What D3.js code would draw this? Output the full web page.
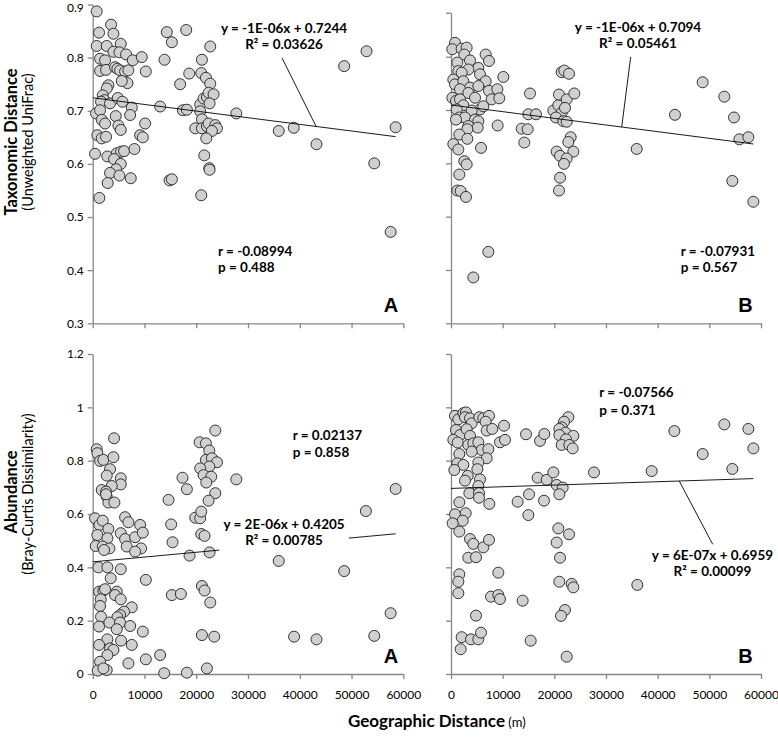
<!DOCTYPE html>
<html>
<head>
<meta charset="utf-8">
<script src="https://cdn.jsdelivr.net/npm/d3@7"></script>
<style>
body { margin: 0; background: #fff; }
svg { font-family: Lato, "Open Sans", sans-serif; }
.axis path, .axis line { stroke: #868686; stroke-width: 1.3; }
.axis text { font-size: 12px; fill: #000; font-family: Lato, sans-serif; }
.pt { fill: #d0d0d0; stroke: #333; stroke-width: 1; }
.trend, .leader { stroke: #000; stroke-width: 0.9; fill: none; }
.note { font-size: 13.5px; font-weight: bold; fill: #000; }
.tag { font-family: "Liberation Sans", Arial, sans-serif; font-size: 20px; font-weight: bold; }
</style>
</head>
<body>
<svg width="778" height="742"></svg>
<script>
// values: [geographic distance (m), dissimilarity]
const taxA = [[770,0.887],[1230,0.847],[3550,0.862],[4000,0.845],[770,0.822],[2710,0.822],[5420,0.826],[1420,0.798],[2390,0.795],[4000,0.811],[5160,0.810],[6450,0.806],[7740,0.795],[9480,0.801],[1420,0.775],[2580,0.777],[4320,0.782],[4770,0.779],[5290,0.776],[6260,0.774],[6900,0.776],[10260,0.774],[6710,0.752],[3030,0.748],[2710,0.742],[5610,0.756],[1940,0.729],[2260,0.720],[1610,0.717],[3350,0.714],[4840,0.724],[5740,0.717],[7550,0.706],[7230,0.692],[650,0.695],[1420,0.701],[1740,0.683],[2390,0.676],[4450,0.690],[4970,0.672],[5420,0.664],[10130,0.676],[900,0.654],[1740,0.648],[2580,0.651],[9160,0.654],[9680,0.650],[450,0.619],[2840,0.614],[4650,0.620],[5480,0.623],[6060,0.624],[8060,0.628],[4130,0.609],[5420,0.600],[4520,0.590],[3350,0.583],[5160,0.578],[7350,0.573],[2900,0.564],[1290,0.536],[13030,0.708],[14320,0.848],[15290,0.829],[13870,0.796],[18060,0.852],[18650,0.770],[16900,0.750],[17420,0.701],[18190,0.702],[14840,0.569],[15290,0.571],[21100,0.796],[22710,0.821],[20970,0.771],[21870,0.762],[22710,0.751],[20770,0.712],[20770,0.699],[21420,0.723],[22060,0.726],[22390,0.734],[23350,0.731],[22580,0.714],[21100,0.684],[19810,0.667],[21100,0.667],[22060,0.671],[22390,0.676],[23680,0.673],[24000,0.667],[23030,0.662],[21940,0.648],[21550,0.616],[22520,0.592],[22580,0.589],[20970,0.541],[27740,0.695],[48580,0.784],[52900,0.812],[35940,0.662],[38840,0.668],[43230,0.637],[54390,0.601],[58520,0.669],[57550,0.472]];

const taxB = [[770,0.826],[260,0.814],[2060,0.815],[3030,0.817],[2580,0.804],[1230,0.789],[3680,0.793],[6710,0.804],[7350,0.792],[5290,0.779],[3350,0.776],[1420,0.773],[2060,0.770],[5610,0.767],[10130,0.762],[450,0.757],[770,0.748],[2390,0.754],[6710,0.754],[3680,0.742],[5290,0.745],[1740,0.739],[3350,0.732],[4650,0.723],[7350,0.736],[8970,0.739],[7870,0.720],[9350,0.722],[260,0.723],[970,0.717],[1740,0.720],[2390,0.709],[1100,0.701],[5610,0.701],[4000,0.699],[6260,0.707],[1610,0.686],[2710,0.686],[970,0.682],[4650,0.682],[5290,0.679],[3350,0.670],[5160,0.667],[9030,0.671],[3160,0.664],[1610,0.654],[3160,0.646],[450,0.636],[1420,0.626],[5810,0.629],[2580,0.604],[3030,0.598],[1610,0.579],[1230,0.549],[1870,0.548],[2900,0.537],[7230,0.434],[4320,0.386],[15290,0.731],[13680,0.665],[14840,0.664],[14190,0.639],[14970,0.692],[16450,0.692],[19810,0.699],[20770,0.709],[20900,0.729],[22390,0.720],[21420,0.695],[20320,0.686],[22060,0.704],[21740,0.679],[22390,0.678],[23870,0.731],[21420,0.771],[21940,0.774],[22840,0.768],[23160,0.649],[22710,0.640],[23680,0.622],[20450,0.622],[21100,0.614],[22390,0.609],[21870,0.599],[21100,0.573],[20900,0.549],[35940,0.627],[43350,0.691],[48710,0.752],[52900,0.725],[54770,0.686],[55810,0.645],[57550,0.649],[54450,0.567],[58520,0.528]];

const abunA = [[770,0.843],[900,0.828],[1420,0.799],[2060,0.803],[4130,0.884],[4000,0.813],[3350,0.768],[2710,0.744],[5420,0.734],[5420,0.711],[3680,0.705],[1740,0.690],[2580,0.684],[2710,0.665],[3030,0.643],[4190,0.643],[2580,0.674],[450,0.584],[1290,0.559],[1940,0.575],[3030,0.544],[900,0.521],[2840,0.509],[580,0.480],[1940,0.478],[3230,0.471],[6260,0.588],[6900,0.569],[5420,0.528],[6260,0.506],[6580,0.478],[8190,0.513],[9160,0.559],[9680,0.530],[9350,0.471],[8190,0.459],[2190,0.465],[1100,0.400],[2840,0.400],[3480,0.359],[5420,0.393],[10260,0.353],[1230,0.309],[2060,0.313],[2390,0.318],[1550,0.280],[1420,0.255],[4650,0.309],[4320,0.296],[5420,0.280],[7550,0.250],[6060,0.234],[5290,0.221],[4770,0.213],[1610,0.215],[1230,0.178],[3230,0.193],[5290,0.193],[4650,0.168],[7230,0.180],[9680,0.159],[5480,0.125],[2840,0.130],[7550,0.109],[1230,0.109],[3350,0.096],[4000,0.090],[2840,0.071],[1420,0.046],[970,0.013],[2710,0.015],[2060,0.021],[6900,0.040],[10260,0.055],[13030,0.071],[13810,0.003],[18190,0.005],[22060,0.021],[14650,0.653],[15160,0.561],[15420,0.494],[15290,0.296],[17030,0.300],[17350,0.736],[18190,0.693],[18710,0.444],[19810,0.586],[20770,0.584],[20970,0.609],[20970,0.525],[21610,0.518],[20650,0.869],[21870,0.865],[22520,0.838],[23680,0.913],[21870,0.803],[23030,0.809],[24000,0.794],[21230,0.765],[22520,0.778],[20770,0.771],[21420,0.746],[22900,0.740],[21940,0.718],[23680,0.678],[22390,0.650],[22580,0.456],[21100,0.330],[21610,0.313],[22710,0.268],[21100,0.146],[23480,0.140],[27740,0.730],[35940,0.424],[38900,0.140],[43230,0.130],[48580,0.386],[52770,0.611],[54390,0.143],[57550,0.228],[58520,0.694]];

const abunB = [[770,0.968],[1420,0.955],[2390,0.978],[2900,0.981],[2710,0.963],[3680,0.959],[4000,0.940],[5480,0.963],[6260,0.959],[7350,0.968],[6710,0.946],[6900,0.913],[7990,0.919],[10260,0.931],[970,0.915],[1740,0.896],[3030,0.918],[3680,0.893],[450,0.878],[1290,0.868],[3350,0.859],[4320,0.865],[5290,0.869],[5940,0.840],[7230,0.843],[6900,0.809],[9480,0.869],[10450,0.878],[4000,0.834],[1610,0.825],[1230,0.790],[2390,0.784],[650,0.765],[5290,0.793],[5100,0.768],[3230,0.743],[2710,0.725],[5610,0.730],[5290,0.705],[3550,0.678],[5420,0.678],[5420,0.661],[1610,0.644],[7420,0.638],[770,0.599],[2840,0.603],[2260,0.575],[320,0.565],[1610,0.534],[3680,0.506],[4320,0.488],[6260,0.475],[7350,0.503],[3350,0.436],[4840,0.438],[1610,0.374],[1420,0.346],[1420,0.303],[9160,0.380],[7740,0.290],[9160,0.296],[9480,0.281],[4840,0.219],[2060,0.138],[3870,0.130],[5290,0.130],[5810,0.155],[1870,0.093],[13870,0.275],[14520,0.899],[17230,0.874],[18060,0.900],[16770,0.736],[18520,0.728],[19810,0.756],[15100,0.674],[12900,0.646],[14970,0.596],[18000,0.650],[15420,0.125],[20450,0.709],[21610,0.699],[20970,0.674],[20770,0.546],[22840,0.524],[20450,0.493],[21100,0.436],[20970,0.346],[23350,0.338],[23680,0.325],[22060,0.240],[21290,0.218],[22390,0.065],[22710,0.963],[21870,0.946],[21420,0.925],[20970,0.919],[22190,0.905],[20970,0.896],[23680,0.893],[22260,0.880],[21420,0.859],[22900,0.859],[23550,0.846],[27680,0.756],[38840,0.761],[43230,0.911],[48710,0.825],[52900,0.936],[57550,0.919],[58520,0.846],[54450,0.769],[36060,0.334]];

const xTicks = [0, 10000, 20000, 30000, 40000, 50000, 60000];
const taxTicks = [0.3, 0.4, 0.5, 0.6, 0.7, 0.8, 0.9];
const abunTicks = [0, 0.2, 0.4, 0.6, 0.8, 1, 1.2];
const taxTopB = 0.8825;   // right-hand upper axis stops a little short of 0.9

// linear fits (line drawn as in the figure), ending at the farthest point
const fitIntercepts = [0.7244, 0.7094, 0.4205, 0.6959];
const fitSlopes = [-1.25e-6, -1.25e-6, 1.8e-6, 6.3e-7];
const fitEnd = 58520;

const eqTexts = [["y = -1E-06x + 0.7244", "R² = 0.03626"], ["y = -1E-06x + 0.7094", "R² = 0.05461"],
                 ["y = 2E-06x + 0.4205", "R² = 0.00785"], ["y = 6E-07x + 0.6959", "R² = 0.00099"]];
const eqPos = [[36960, 0.8460, 0.8160], [36190, 0.8460, 0.8160], [36960, 0.542, 0.482], [50610, 0.4260, 0.3660]];
const statTexts = [["r = -0.08994", "p = 0.488"], ["r = -0.07931", "p = 0.567"],
                   ["r = 0.02137", "p = 0.858"], ["r = -0.07566", "p = 0.371"]];
const statPos = [[24205, 0.4262, 0.3962], [44460, 0.4262, 0.3962], [38635, 0.8775, 0.8137], [28700, 1.0387, 0.9712]];
// leader: label end [x, y] and x where it meets the fit line
const leaders = [[36570, 0.7995, 43160], [34780, 0.7997, 33040], null, [50650, 0.4864, 44180]];
const tags = ["A", "B", "A", "B"];
const tagPos = [[57620, 0.3218], [57000, 0.3218], [57620, 0.0413], [57000, 0.0413]];

const svg = d3.select("svg");

const panels = [
  { data: taxA, x: [92.7, 403.3], y: [323.3, 4.5], yDom: [0.3, 0.9], yTicks: taxTicks, yLab: true, xLab: false },
  { data: taxB, x: [451, 761], y: [323.3, 12.7], yDom: [0.3, taxTopB], yTicks: taxTicks.slice(0, 6).concat([taxTopB]), yLab: false, xLab: false },
  { data: abunA, x: [92.7, 403.3], y: [674, 354], yDom: [0, 1.2], yTicks: abunTicks, yLab: true, xLab: true },
  { data: abunB, x: [451, 761], y: [674, 354], yDom: [0, 1.2], yTicks: abunTicks, yLab: false, xLab: true }
];

panels.forEach((p, i) => {
  const x = d3.scaleLinear().domain([0, 60000]).range(p.x);
  const y = d3.scaleLinear().domain(p.yDom).range(p.y);
  const g = svg.append("g");

  g.append("g")
    .attr("class", "axis")
    .attr("transform", `translate(0,${p.y[0]})`)
    .call(d3.axisBottom(x).tickValues(xTicks).tickSize(5).tickSizeOuter(0).tickPadding(11)
      .tickFormat(p.xLab ? d3.format("d") : ""));

  const ya = g.append("g")
    .attr("class", "axis")
    .attr("transform", `translate(${p.x[0]},0)`)
    .call(d3.axisLeft(y).tickValues(p.yTicks).tickSize(5).tickSizeOuter(0).tickPadding(4)
      .tickFormat(p.yLab ? d3.format("~g") : ""));
  // keep the topmost label inside the page
  ya.selectAll(".tick text").filter(d => y(d) < 8).attr("dy", "0.62em");

  g.append("g")
    .selectAll("circle")
    .data(p.data)
    .enter().append("circle")
    .attr("class", "pt")
    .attr("cx", d => x(d[0]))
    .attr("cy", d => y(d[1]))
    .attr("r", 5.5);

  const fit = xv => fitIntercepts[i] + fitSlopes[i] * xv;
  g.append("path")
    .attr("class", "trend")
    .attr("d", d3.line().x(d => x(d)).y(d => y(fit(d)))([0, fitEnd]));

  if (leaders[i]) {
    const l = leaders[i];
    g.append("line")
      .attr("class", "leader")
      .attr("x1", x(l[0])).attr("y1", y(l[1]))
      .attr("x2", x(l[2])).attr("y2", y(fit(l[2])));
  }

  // equation label, with a white box like the spreadsheet label
  const eg = g.append("g");
  const box = eg.append("rect").attr("fill", "#fff");
  eqTexts[i].forEach((t, k) => {
    eg.append("text")
      .attr("class", "note")
      .attr("text-anchor", "middle")
      .attr("x", x(eqPos[i][0]))
      .attr("y", y(eqPos[i][k + 1]))
      .text(t);
  });
  const bb = eg.node().getBBox();
  box.attr("x", bb.x - 4).attr("y", bb.y - 2).attr("width", bb.width + 8).attr("height", bb.height + 6);

  statTexts[i].forEach((t, k) => {
    g.append("text")
      .attr("class", "note")
      .attr("x", x(statPos[i][0]))
      .attr("y", y(statPos[i][k + 1]))
      .text(t);
  });

  g.append("text")
    .attr("class", "tag")
    .attr("text-anchor", "middle")
    .attr("x", x(tagPos[i][0]))
    .attr("y", y(tagPos[i][1]))
    .text(tags[i]);
});

// axis titles
svg.append("text")
  .attr("transform", "translate(16.5,142) rotate(-90)")
  .attr("text-anchor", "middle")
  .attr("font-size", 16.5).attr("font-weight", "bold")
  .text("Taxonomic Distance");
svg.append("text")
  .attr("transform", "translate(33,142) rotate(-90)")
  .attr("text-anchor", "middle")
  .attr("font-size", 14.5)
  .text("(Unweighted UniFrac)");
svg.append("text")
  .attr("transform", "translate(16.5,492) rotate(-90)")
  .attr("text-anchor", "middle")
  .attr("font-size", 16.5).attr("font-weight", "bold")
  .text("Abundance");
svg.append("text")
  .attr("transform", "translate(33,494) rotate(-90)")
  .attr("text-anchor", "middle")
  .attr("font-size", 14.5)
  .text("(Bray-Curtis Dissimilarity)");

const xt = svg.append("text")
  .attr("x", 348).attr("y", 727)
  .attr("font-size", 17).attr("font-weight", "bold")
  .text("Geographic Distance");
xt.append("tspan")
  .attr("font-size", 13).attr("font-weight", "normal")
  .text(" (m)");
</script>
</body>
</html>
